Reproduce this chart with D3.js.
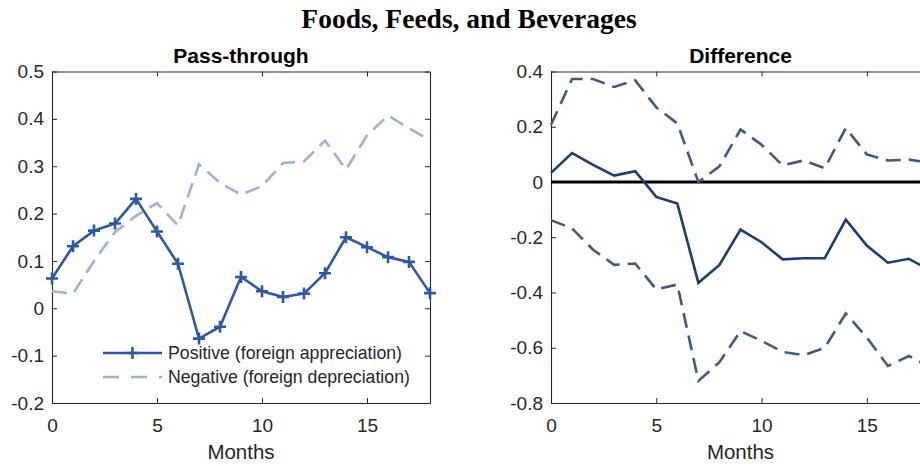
<!DOCTYPE html>
<html>
<head>
<meta charset="utf-8">
<script src="https://cdn.jsdelivr.net/npm/d3@7.9.0/dist/d3.min.js"></script>
<style>
  body { margin: 0; background: #fff; }
  svg { display: block; }
  text { font-family: "Liberation Sans", Arial, sans-serif; fill: #262626; }
</style>
</head>
<body>
<svg id="chart" width="920" height="466"></svg>
<script>
// months on the horizontal axis
const months = d3.range(0, 19);

// left panel: pass-through by sign of exchange rate move
const positive = [0.063, 0.131, 0.164, 0.179, 0.231, 0.162, 0.094, -0.064, -0.039, 0.066,
  0.036, 0.024, 0.031, 0.074, 0.150, 0.129, 0.108, 0.098, 0.032];
const negative = [0.036, 0.031, 0.100, 0.161, 0.195, 0.222, 0.175, 0.304, 0.265, 0.240,
  0.258, 0.307, 0.310, 0.354, 0.293, 0.365, 0.407, 0.380, 0.355];

// right panel: difference with band
const diff = [0.033, 0.105, 0.062, 0.023, 0.039, -0.054, -0.078, -0.365, -0.300, -0.172,
  -0.218, -0.280, -0.276, -0.276, -0.136, -0.230, -0.292, -0.278, -0.320];
const upper = [0.207, 0.373, 0.373, 0.344, 0.368, 0.270, 0.212, 0.000, 0.057, 0.190,
  0.135, 0.060, 0.078, 0.050, 0.195, 0.100, 0.078, 0.081, 0.070];
const lower = [-0.138, -0.168, -0.245, -0.300, -0.295, -0.389, -0.371, -0.720, -0.652, -0.540,
  -0.575, -0.615, -0.627, -0.600, -0.476, -0.563, -0.666, -0.630, -0.670];

const leftTicks = [-0.2, -0.1, 0, 0.1, 0.2, 0.3, 0.4, 0.5];
const rightTicks = [-0.8, -0.6, -0.4, -0.2, 0, 0.2, 0.4];
const xTicks = [0, 5, 10, 15];

const svg = d3.select('#chart');
const plotTop = 71.5, plotBottom = 403;
const fmt = (d) => String(+d.toFixed(1));

svg.append('text')
  .attr('x', 469).attr('y', 28)
  .attr('text-anchor', 'middle')
  .style('font-family', '"Liberation Serif", "Times New Roman", serif')
  .style('font-weight', 'bold')
  .style('font-size', '27.5px')
  .style('fill', '#000')
  .text('Foods, Feeds, and Beverages');

// draws one boxed MATLAB-style axes and returns its scales
function panel(x0, x1, yDomain, yTicks, title) {
  const x = d3.scaleLinear().domain([0, 18]).range([x0, x1]);
  const y = d3.scaleLinear().domain(yDomain).range([plotBottom, plotTop]);
  const g = svg.append('g');

  const mk = (axis) => axis.tickSizeInner(-5).tickSizeOuter(0);

  g.append('g').attr('transform', `translate(0,${plotBottom})`)
    .call(mk(d3.axisBottom(x)).tickPadding(16).tickValues(xTicks).tickFormat(fmt));
  g.append('g').attr('transform', `translate(0,${plotTop})`)
    .call(mk(d3.axisTop(x)).tickValues(xTicks).tickFormat(''));
  g.append('g').attr('transform', `translate(${x0},0)`)
    .call(mk(d3.axisLeft(y)).tickPadding(8).tickValues(yTicks).tickFormat(fmt));
  g.append('g').attr('transform', `translate(${x1},0)`)
    .call(mk(d3.axisRight(y)).tickValues(yTicks).tickFormat(''));

  g.selectAll('.domain').attr('stroke', '#262626').attr('stroke-width', 1.1);
  g.selectAll('.tick line').attr('stroke', '#262626');
  g.selectAll('.tick text').style('font-size', '19px').style('fill', '#262626')
    .style('font-family', '"Liberation Sans", Arial, sans-serif');

  svg.append('text')
    .attr('x', (x0 + x1) / 2).attr('y', 63)
    .attr('text-anchor', 'middle')
    .style('font-weight', 'bold').style('font-size', '21px').style('fill', '#000')
    .text(title);

  svg.append('text')
    .attr('x', (x0 + x1) / 2).attr('y', 459)
    .attr('text-anchor', 'middle')
    .style('font-size', '20.5px')
    .text('Months');

  return { x, y };
}

// left panel
const L = panel(52, 430, [-0.2, 0.5], leftTicks, 'Pass-through');
const lineL = d3.line().x((d, i) => L.x(months[i])).y((d) => L.y(d));

svg.append('path').datum(negative)
  .attr('d', lineL).attr('fill', 'none')
  .attr('stroke', '#9db2d3').attr('stroke-width', 2.6)
  .attr('stroke-dasharray', '15,8');

svg.append('path').datum(positive)
  .attr('d', lineL).attr('fill', 'none')
  .attr('stroke', '#2e59a1').attr('stroke-width', 2.6);

svg.selectAll('.mark').data(positive).enter().append('path')
  .attr('class', 'mark')
  .attr('d', 'M-6,0H6M0,-6V6')
  .attr('transform', (d, i) => `translate(${L.x(months[i])},${L.y(d)})`)
  .attr('stroke', '#2e59a1').attr('stroke-width', 2.6);

// legend
const leg = svg.append('g');
leg.append('line').attr('x1', 103).attr('x2', 162).attr('y1', 353).attr('y2', 353)
  .attr('stroke', '#2e59a1').attr('stroke-width', 2.6);
leg.append('path').attr('d', 'M-6,0H6M0,-6V6').attr('transform', 'translate(132.5,353)')
  .attr('stroke', '#2e59a1').attr('stroke-width', 2.6);
leg.append('line').attr('x1', 103).attr('x2', 162).attr('y1', 377).attr('y2', 377)
  .attr('stroke', '#9db2d3').attr('stroke-width', 2.6).attr('stroke-dasharray', '16,12');
leg.append('text').attr('x', 168).attr('y', 359).style('font-size', '17.7px')
  .text('Positive (foreign appreciation)');
leg.append('text').attr('x', 168).attr('y', 383).style('font-size', '17.7px')
  .text('Negative (foreign depreciation)');

// right panel
const R = panel(551, 930, [-0.8, 0.4], rightTicks, 'Difference');
const lineR = d3.line().x((d, i) => R.x(months[i])).y((d) => R.y(d));

svg.append('line')
  .attr('x1', R.x(0)).attr('x2', R.x(18))
  .attr('y1', R.y(0)).attr('y2', R.y(0))
  .attr('stroke', '#000').attr('stroke-width', 2.8);

[upper, lower].forEach((band) => {
  svg.append('path').datum(band)
    .attr('d', lineR).attr('fill', 'none')
    .attr('stroke', '#3f5a82').attr('stroke-width', 2.6)
    .attr('stroke-dasharray', '15,8');
});

svg.append('path').datum(diff)
  .attr('d', lineR).attr('fill', 'none')
  .attr('stroke', '#1c3d72').attr('stroke-width', 2.6);
</script>
</body>
</html>
